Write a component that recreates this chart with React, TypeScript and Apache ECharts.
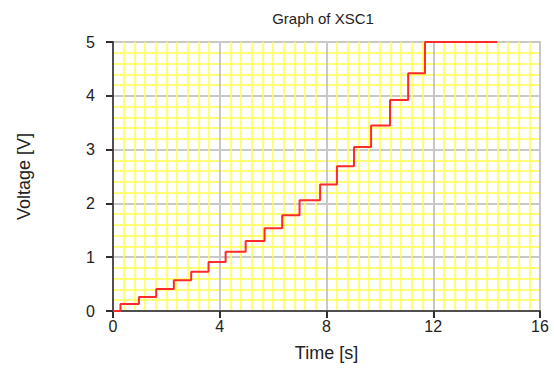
import React, { useEffect, useRef } from "react";
import * as echarts from "echarts";

const titleText = "Graph of XSC1";
const xAxisName = "Time [s]";
const yAxisName = "Voltage [V]";
const timeValues = [0, 0.28, 0.97, 1.62, 2.28, 2.93, 3.58, 4.22, 4.97, 5.68, 6.34, 6.99, 7.76, 8.39, 9.03, 9.67, 10.38, 11.06, 11.69, 14.4];
const voltageValues = [0, 0.13, 0.26, 0.41, 0.57, 0.73, 0.91, 1.1, 1.3, 1.54, 1.78, 2.06, 2.35, 2.69, 3.05, 3.45, 3.92, 4.42, 5.0, 5.0];

const FONT = "'Liberation Sans', Arial, sans-serif";

export default function App() {
  const ref = useRef<HTMLDivElement>(null);
  useEffect(() => {
    document.body.style.margin = "0";
    const chart = echarts.init(ref.current!, null, { renderer: "svg" });
    const data = timeValues.map((t, i) => [t, voltageValues[i]]);
    chart.setOption({
      animation: false,
      backgroundColor: "#ffffff",
      textStyle: { fontFamily: FONT },
      title: {
        text: titleText,
        left: 318,
        top: 6,
        textAlign: "center",
        textStyle: { fontSize: 15, fontWeight: "normal", color: "#222", fontFamily: FONT },
      },
      grid: {
        left: 113,
        right: 14,
        top: 42,
        bottom: 65,
        show: true,
        borderColor: "#c8c8c8",
        borderWidth: 2,
        backgroundColor: "#ffffff",
      },
      xAxis: {
        type: "value",
        min: 0,
        max: 16,
        interval: 4,
        name: xAxisName,
        nameLocation: "middle",
        nameGap: 33,
        nameTextStyle: { fontSize: 18, color: "#222", fontFamily: FONT },
        axisLine: { show: true, onZero: false, lineStyle: { color: "#505050", width: 2 } },
        axisTick: { show: true, length: 7, lineStyle: { color: "#303030", width: 2 } },
        axisLabel: { fontSize: 16, color: "#222", margin: 7, fontFamily: FONT },
        splitLine: { show: true, lineStyle: { color: "#c8c8c8", width: 2 } },
        minorTick: { show: false, splitNumber: 10 },
        minorSplitLine: { show: true, lineStyle: { color: "#ffff50", width: 1.5 } },
      },
      yAxis: {
        type: "value",
        min: 0,
        max: 5,
        interval: 1,
        name: yAxisName,
        nameLocation: "middle",
        nameGap: 80,
        nameTextStyle: { fontSize: 18, color: "#222", fontFamily: FONT },
        axisLine: { show: true, onZero: false, lineStyle: { color: "#505050", width: 2 } },
        axisTick: { show: true, length: 7, lineStyle: { color: "#303030", width: 2 } },
        axisLabel: { fontSize: 16, color: "#222", margin: 18, fontFamily: FONT },
        splitLine: { show: true, lineStyle: { color: "#c8c8c8", width: 2 } },
        minorTick: { show: false, splitNumber: 5 },
        minorSplitLine: { show: true, lineStyle: { color: "#ffff50", width: 1.5 } },
      },
      series: [
        {
          type: "line",
          step: "end",
          data,
          symbol: "none",
          lineStyle: { color: "#ff2a2a", width: 2 },
          z: 5,
        },
      ],
    });
    return () => chart.dispose();
  }, []);
  return <div ref={ref} style={{ width: 554, height: 376 }} />;
}
